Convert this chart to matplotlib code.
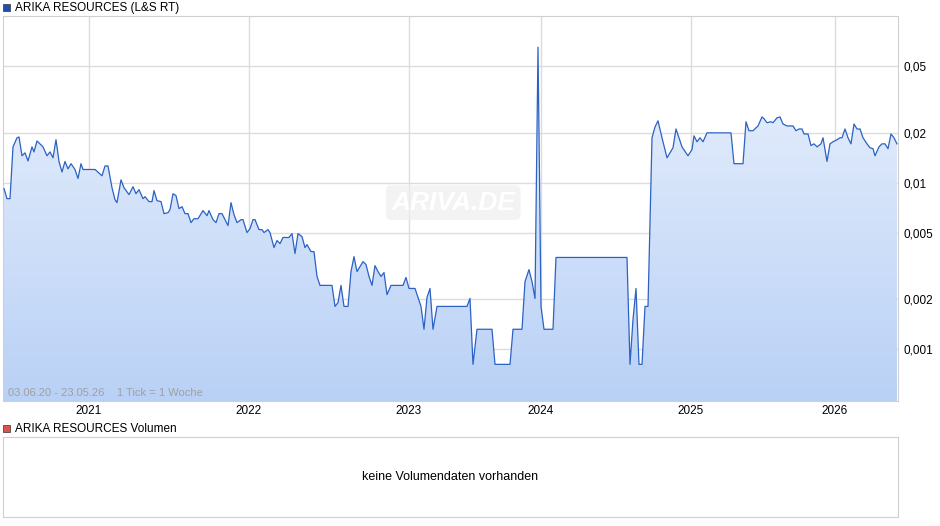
import matplotlib
matplotlib.use("Agg")
import matplotlib.pyplot as plt
import numpy as np
from matplotlib.patches import Rectangle
from matplotlib.colors import LinearSegmentedColormap

# time axis in chart units (weekly index positions), year label positions
t = [4,7,10,13,17,19,22,25,28,32,34,37,43,47,50,53,56,59,62,65,68,71,75,78,81,83,95,102,105,108,
     112,115,117,121,124,129,133,136,139,143,145,149,152,154,157,161,164,168,170,173,176,179,182,185,188,
     191,194,198,203,207,209,213,216,219,222,225,228,231,234,237,241,243,247,250,253,255,259,262,264,268,
     270,274,277,280,283,289,292,295,298,302,305,307,311,314,317,320,332,335,338,341,344,348,351,354,
     357,363,366,369,372,375,378,381,384,387,391,403,406,409,415,421,424,427,430,433,437,467,470,
     473,477,492,495,510,513,522,525,529,532,535,538,541,544,553,556,627,630,633,636,639,642,645,648,
     652,655,658,662,667,670,673,676,679,682,688,692,694,697,700,703,707,731,734,743,746,749,753,758,
     762,764,767,771,773,777,780,783,787,793,796,799,802,804,808,811,814,817,821,823,827,830,833,837,
     840,842,845,848,851,854,857,860,863,867,870,873,875,879,882,885,888,891,894,897]
price = [0.00921,0.00802,0.00802,0.0164,0.0186,0.0188,0.0145,0.0151,0.0135,0.0164,0.0153,0.0178,0.0164,0.0145,0.0153,0.0141,
     0.0181,0.0134,0.0116,0.0134,0.0121,0.0130,0.0120,0.0106,0.0130,0.0120,0.0120,0.0110,0.0126,0.0126,
     0.00933,0.00791,0.00759,0.0104,0.00933,0.00848,0.00946,0.00859,0.00908,0.00802,0.00824,0.00770,0.00770,0.00896,0.00780,0.00770,
     0.00652,0.00661,0.00689,0.00859,0.00836,0.00699,0.00718,0.00652,0.00652,
     0.00576,0.00608,0.00608,0.00680,0.00634,0.00680,0.00600,0.00576,0.00652,0.00652,0.00600,0.00553,0.00759,0.00643,0.00576,0.00600,0.00600,
     0.00502,0.00530,0.00600,0.00600,0.00523,0.00523,0.00502,0.00523,
     0.00502,0.00408,0.00450,0.00431,0.00469,0.00469,0.00495,0.00376,0.00495,0.00475,0.00408,0.00425,0.00386,0.00386,0.00274,0.00242,0.00242,
     0.00181,0.00191,0.00242,0.00181,0.00181,0.00293,0.00360,
     0.00293,0.00336,0.00323,0.00274,0.00242,0.00318,0.00293,0.00274,0.00289,0.00213,0.00242,0.00242,0.00270,0.00232,0.00232,
     0.00181,0.00132,0.00205,0.00232,0.00132,0.00181,0.00181,0.00202,
     0.000813,0.00132,0.00132,0.000813,0.000813,0.00132,0.00132,0.00255,0.00301,0.00255,0.00202,0.065,0.00181,0.00132,0.00132,
     0.00356,0.00356,0.000813,0.00151,0.00232,0.000813,0.000813,0.00181,0.00181,
     0.0186,0.0216,0.0235,0.0186,0.0141,0.0151,0.0162,0.0210,0.0186,0.0164,0.0145,0.0158,0.0191,0.0176,0.0186,0.0176,0.0199,0.0199,
     0.0130,0.0130,0.0232,0.0205,0.0205,0.0219,
     0.0248,0.0242,0.0229,0.0232,0.0229,0.0245,0.0248,0.0225,0.0219,0.0219,0.0205,0.0210,0.0210,0.0196,0.0196,0.0167,0.0171,
     0.0164,0.0171,0.0186,0.0134,0.0171,0.0176,0.0181,
     0.0186,0.0186,0.0210,0.0186,0.0171,0.0225,0.0210,0.0210,0.0186,0.0171,0.0162,0.0160,0.0145,0.0164,0.0171,0.0171,0.0160,
     0.0196,0.0186,0.0171]
year_pos = [89, 249, 409, 541, 691, 835]
year_labels = ["2021", "2022", "2023", "2024", "2025", "2026"]
yticks = [0.001, 0.002, 0.005, 0.01, 0.02, 0.05]
ytick_labels = ["0,001", "0,002", "0,005", "0,01", "0,02", "0,05"]

W, H = 940, 526
fig = plt.figure(figsize=(W/100, H/100), dpi=100)
plt.rcParams['font.family'] = ['Liberation Sans', 'DejaVu Sans']

x0, x1, yt, yb = 3, 898, 16, 401
ax = fig.add_axes([x0/W, 1-yb/H, (x1-x0)/W, (yb-yt)/H])
ax.set_yscale('log')
ax.set_xlim(x0, x1)
ylo, yhi = 0.00049, 0.1
ax.set_ylim(ylo, yhi)

grid_c = '#dcdcdc'
for v in yticks:
    ax.axhline(v, color=grid_c, lw=1, zorder=0)
for p in year_pos:
    ax.axvline(p, color=grid_c, lw=1, zorder=0)

grad = np.linspace(0, 1, 256).reshape(-1, 1)
cmap = LinearSegmentedColormap.from_list('g', ['#edf3fd', '#b9d1f6'])
im = ax.imshow(grad, cmap=cmap, aspect='auto', extent=[0, 1, 0, 1], origin='upper',
               transform=ax.transAxes, zorder=1)
poly = ax.fill_between(t, price, ylo, color='none', lw=0)
im.set_clip_path(poly.get_paths()[0], transform=ax.transData)
ax.plot(t, price, color='#2b62c4', lw=0.9, zorder=3)

ax.set_xticks(year_pos)
ax.set_xticklabels(year_labels, fontsize=8.5)
ax.tick_params(axis='x', length=0, pad=3)
ax.yaxis.tick_right()
ax.set_yticks(yticks)
ax.set_yticklabels(ytick_labels, fontsize=8.5)
ax.yaxis.set_minor_locator(matplotlib.ticker.NullLocator())
ax.tick_params(axis='y', length=0, pad=4)
for s in ax.spines.values():
    s.set_color('#d0d0d0')

ax.text(0.006, 0.012, "03.06.20 - 23.05.26    1 Tick = 1 Woche", transform=ax.transAxes,
        fontsize=8, color='#a0a0a0', zorder=4)
ax.text(0.503, 0.515, "ARIVA.DE", transform=ax.transAxes, fontsize=19, color='#ffffff',
        style='italic', fontweight='bold', ha='center', va='center', zorder=2,
        bbox=dict(boxstyle='round,pad=0.2', fc='#eeeeee', ec='none', alpha=0.7))

fig.patches.append(Rectangle((3/W, 1-11/H), 7/W, 7/H, transform=fig.transFigure,
                             fc='#1f4fb0', ec='#333333', lw=0.5))
fig.text(15/W, 1-7.5/H, "ARIKA RESOURCES (L&S RT)", fontsize=8.5, va='center')
fig.patches.append(Rectangle((3/W, 1-432/H), 7/W, 7/H, transform=fig.transFigure,
                             fc='#d9534f', ec='#333333', lw=0.5))
fig.text(15/W, 1-428.5/H, "ARIKA RESOURCES Volumen", fontsize=8.5, va='center')

ax2 = fig.add_axes([x0/W, 1-517/H, (x1-x0)/W, (517-437)/H])
ax2.set_xticks([]); ax2.set_yticks([])
for s in ax2.spines.values():
    s.set_color('#d0d0d0')
ax2.text(0.5, 0.5, "keine Volumendaten vorhanden", ha='center', va='center', fontsize=9,
         transform=ax2.transAxes)

fig.savefig('out.png', dpi=100)
